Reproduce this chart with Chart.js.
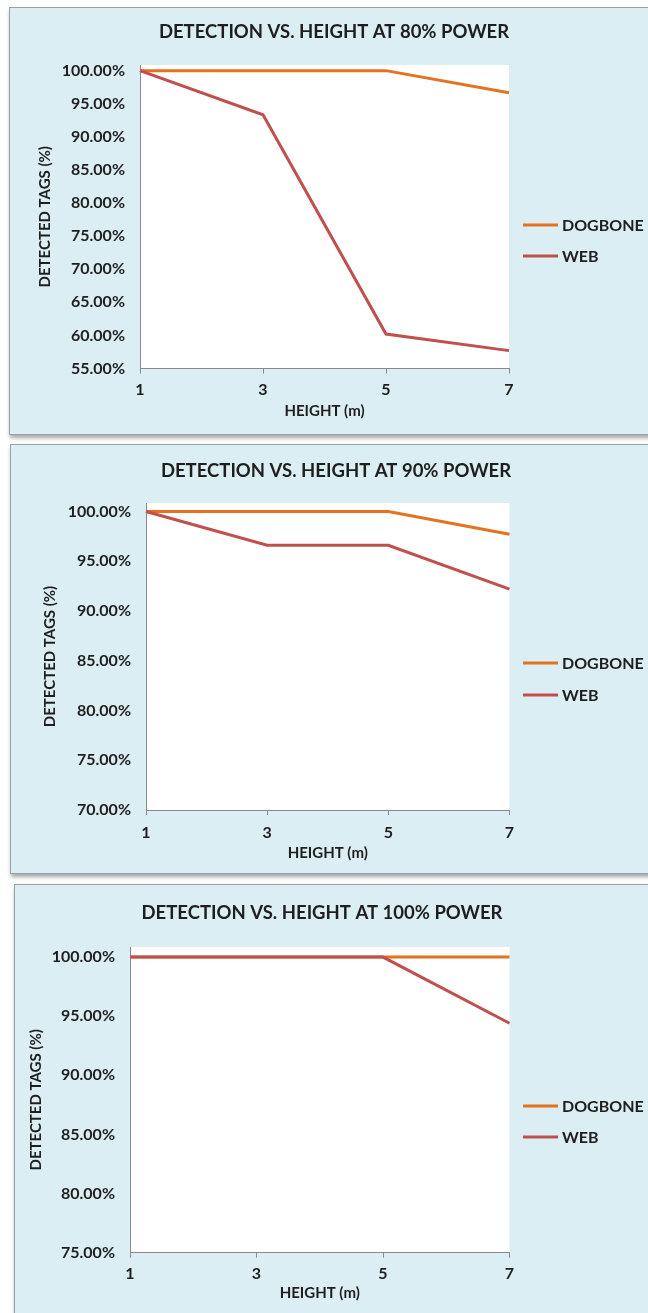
<!DOCTYPE html>
<html>
<head>
<meta charset="utf-8">
<script src="https://cdn.jsdelivr.net/npm/chart.js@4.4.1/dist/chart.umd.min.js"></script>
<style>
  html, body { margin: 0; padding: 0; background: #ffffff; width: 648px; height: 1313px; overflow: hidden; position: relative; }
  .panel { position: absolute; box-sizing: border-box; background: #DAEEF3; border: 1px solid #98a2a6; box-shadow: 1px 3px 4px rgba(0,0,0,0.35); }
  canvas { position: absolute; }
</style>
</head>
<body>
<div class="panel" style="left:9px;top:7px;width:720px;height:428px"></div>
<div class="panel" style="left:10px;top:444px;width:720px;height:430px"></div>
<div class="panel" style="left:14px;top:884px;width:720px;height:520px"></div>
<canvas id="c80" width="638" height="426" style="left:10px;top:8px"></canvas>
<canvas id="c90" width="637" height="428" style="left:11px;top:445px"></canvas>
<canvas id="c100" width="633" height="428" style="left:15px;top:885px"></canvas>

<script>
// Mounting heights (m) shared by all three power levels
const heights = ['1', '3', '5', '7'];
const seriesNames = ['DOGBONE', 'WEB'];

// Detected tags (%) at 80% power
const dogbone80 = [100, 100, 100, 96.67];
const web80 = [100, 93.33, 60.2, 57.7];

// Detected tags (%) at 90% power
const dogbone90 = [100, 100, 100, 97.7];
const web90 = [100, 96.6, 96.6, 92.2];

// Detected tags (%) at 100% power
const dogbone100 = [100, 100, 100, 100];
const web100 = [100, 100, 100, 94.4];

// Value-axis tick labels for each chart
const yTicks80 = [55, 60, 65, 70, 75, 80, 85, 90, 95, 100];
const yTicks90 = [70, 75, 80, 85, 90, 95, 100];
const yTicks100 = [75, 80, 85, 90, 95, 100];

const titles = [
  'DETECTION VS. HEIGHT AT 80% POWER',
  'DETECTION VS. HEIGHT AT 90% POWER',
  'DETECTION VS. HEIGHT AT 100% POWER'
];

const COLORS = { dogbone: '#E4721E', web: '#C0504D', text: '#1e1e1e', axis: '#8a8a8a' };
const FONT = 'Lato';
const SIZES = { title: 18.5, ticks: 16, axisTitle: 15, legend: 16 };

// Page-space layout of each chart (canvas origin, plot box, text anchors)
const layouts = [
  { id: 'c80',  cx: 10, cy: 8,   w: 638, h: 426, l: 140, r: 509,   t: 65,  b: 368.5,
    titleX: 334, titleY: 32,  yTitleX: 45, xLabelPad: 7,   xTitleY: 411,  legendY: [225, 256] },
  { id: 'c90',  cx: 11, cy: 445, w: 637, h: 428, l: 146, r: 509.5, t: 503, b: 810,
    titleX: 336, titleY: 471, yTitleX: 50, xLabelPad: 8.5, xTitleY: 853,  legendY: [663, 695] },
  { id: 'c100', cx: 15, cy: 885, w: 633, h: 428, l: 130, r: 509.5, t: 947, b: 1252.7,
    titleX: 322, titleY: 913, yTitleX: 36, xLabelPad: 7,   xTitleY: 1293, legendY: [1106, 1137] }
];
const LEGEND_X = 523, LEGEND_LINE = 35;
const Y_TOP = 100.85; // plot area reaches slightly above the 100% tick

// Chart title and right-hand legend, drawn from the datasets themselves
const panelText = {
  id: 'panelText',
  afterDraw(chart, args, o) {
    const ctx = chart.ctx;
    ctx.save();
    ctx.fillStyle = COLORS.text;
    ctx.textBaseline = 'middle';
    ctx.textAlign = 'center';
    ctx.font = 'bold ' + SIZES.title + 'px ' + FONT;
    ctx.fillText(o.title, o.titleX, o.titleY);
    ctx.textAlign = 'left';
    ctx.font = 'bold ' + SIZES.legend + 'px ' + FONT;
    chart.data.datasets.forEach((ds, i) => {
      const y = o.legendY[i];
      ctx.strokeStyle = ds.borderColor;
      ctx.lineWidth = ds.borderWidth;
      ctx.beginPath();
      ctx.moveTo(o.legendX, y);
      ctx.lineTo(o.legendX + LEGEND_LINE, y);
      ctx.stroke();
      ctx.fillStyle = COLORS.text;
      ctx.fillText(ds.label, o.legendX + LEGEND_LINE + 4, y + 1);
    });
    ctx.restore();
  }
};

// White plot area
const plotFill = {
  id: 'plotFill',
  beforeDraw(chart) {
    const a = chart.chartArea;
    const ctx = chart.ctx;
    ctx.save();
    ctx.fillStyle = '#ffffff';
    ctx.fillRect(a.left, a.top, a.right - a.left, a.bottom - a.top);
    ctx.restore();
  }
};

function buildChart(L, title, dogbone, web, yTicks) {
  const lhTitle = SIZES.axisTitle * 1.2;
  new Chart(document.getElementById(L.id), {
    type: 'line',
    data: {
      labels: heights,
      datasets: [
        { label: seriesNames[0], data: dogbone, borderColor: COLORS.dogbone, backgroundColor: COLORS.dogbone,
          borderWidth: 3, pointRadius: 0, tension: 0, order: 2, clip: false },
        { label: seriesNames[1], data: web, borderColor: COLORS.web, backgroundColor: COLORS.web,
          borderWidth: 3, pointRadius: 0, tension: 0, order: 1, clip: false }
      ]
    },
    options: {
      responsive: false,
      animation: false,
      devicePixelRatio: 1,
      layout: { padding: { left: 0, top: L.t - L.cy, right: L.cx + L.w - L.r, bottom: 0 } },
      plugins: {
        legend: { display: false },
        tooltip: { enabled: false },
        panelText: {
          title: title,
          titleX: L.titleX - L.cx, titleY: L.titleY - L.cy,
          legendX: LEGEND_X - L.cx,
          legendY: L.legendY.map(v => v - L.cy)
        }
      },
      scales: {
        x: {
          type: 'category',
          offset: false,
          grid: { display: true, drawOnChartArea: false, drawTicks: true, tickLength: 5, color: COLORS.axis },
          border: { display: true, color: COLORS.axis, width: 1 },
          ticks: { color: COLORS.text, font: { family: FONT, size: SIZES.ticks, weight: 'bold' },
                   padding: L.xLabelPad, maxRotation: 0, autoSkip: false },
          title: { display: true, text: 'HEIGHT (m)', color: COLORS.text,
                   font: { family: FONT, size: SIZES.axisTitle, weight: 'bold' },
                   padding: { top: 0, bottom: (L.cy + L.h) - L.xTitleY - lhTitle / 2 } },
          afterFit(s) { s.height = L.cy + L.h - L.b; }
        },
        y: {
          min: yTicks[0],
          max: Y_TOP,
          afterBuildTicks(s) { s.ticks = yTicks.map(v => ({ value: v })); },
          grid: { display: false, drawTicks: false },
          border: { display: true, color: COLORS.axis, width: 1 },
          ticks: { color: COLORS.text, font: { family: FONT, size: SIZES.ticks, weight: 'bold' }, padding: 15,
                   callback: v => Number(v).toFixed(2) + '%' },
          title: { display: true, text: 'DETECTED TAGS (%)', color: COLORS.text,
                   font: { family: FONT, size: SIZES.axisTitle, weight: 'bold' },
                   padding: { top: L.yTitleX - L.cx - lhTitle / 2, bottom: 0 } },
          afterFit(s) { s.width = L.l - L.cx; }
        }
      }
    },
    plugins: [plotFill, panelText]
  });
}

buildChart(layouts[0], titles[0], dogbone80, web80, yTicks80);
buildChart(layouts[1], titles[1], dogbone90, web90, yTicks90);
buildChart(layouts[2], titles[2], dogbone100, web100, yTicks100);
</script>
</body>
</html>
